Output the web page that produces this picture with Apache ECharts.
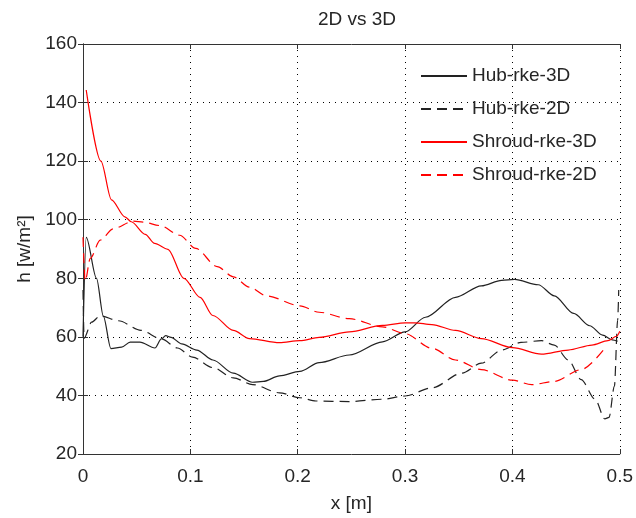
<!DOCTYPE html>
<html>
<head>
<meta charset="utf-8">
<title>2D vs 3D</title>
<script src="https://cdn.jsdelivr.net/npm/echarts@6/dist/echarts.min.js"></script>
<style>
  html, body { margin: 0; padding: 0; background: #ffffff; }
  #chart { width: 636px; height: 518px; }
</style>
</head>
<body>
<div id="chart"></div>
<script>
// Heat transfer coefficient along the blade, hub and shroud, 2D vs 3D runs
const seriesNames = ['Hub-rke-3D', 'Hub-rke-2D', 'Shroud-rke-3D', 'Shroud-rke-2D'];

const xTicks = [0, 0.1, 0.2, 0.3, 0.4, 0.5];
const yTicks = [20, 40, 60, 80, 100, 120, 140, 160];

const hub3dX = [0.000, 0.003, 0.0126, 0.019, 0.026, 0.036, 0.044, 0.053, 0.067, 0.073, 0.077, 0.082, 0.092, 0.106, 0.121, 0.140, 0.158, 0.168, 0.183, 0.202, 0.220, 0.248, 0.279, 0.300, 0.319, 0.347, 0.371, 0.390, 0.402, 0.424, 0.439, 0.457, 0.472, 0.484, 0.493, 0.498];
const hub3dY = [60, 94, 80, 67, 56, 56.5, 58.2, 58.2, 56.2, 59.3, 60.4, 59.8, 57.6, 55.5, 52.1, 47.6, 44.5, 44.8, 46.7, 48.2, 51.2, 53.8, 58.3, 61.7, 66.7, 73.5, 77.4, 79.3, 79.6, 77.8, 74.0, 68.0, 63.8, 60.6, 59.0, 58.5];

const hub2dX = [0.000, 0.001, 0.008, 0.016, 0.033, 0.054, 0.073, 0.088, 0.102, 0.121, 0.140, 0.158, 0.183, 0.202, 0.217, 0.248, 0.279, 0.300, 0.325, 0.353, 0.371, 0.390, 0.408, 0.427, 0.439, 0.452, 0.464, 0.477, 0.486, 0.490, 0.495, 0.498, 0.499];
const hub2dY = [76, 59.5, 65, 67.2, 65.5, 62.2, 59.3, 56.2, 53.1, 49.5, 46.0, 43.7, 40.9, 39.2, 38.1, 37.9, 38.7, 39.8, 42.6, 47.6, 51.0, 55.5, 58.1, 58.7, 57.2, 52.1, 45.4, 38.7, 32.0, 32.5, 43.2, 65.6, 76];

const shroud3dX = [0.003, 0.0167, 0.0265, 0.039, 0.045, 0.058, 0.0667, 0.079, 0.094, 0.109, 0.121, 0.140, 0.155, 0.183, 0.202, 0.220, 0.248, 0.279, 0.300, 0.309, 0.325, 0.347, 0.371, 0.400, 0.427, 0.452, 0.474, 0.489, 0.497, 0.500];
const shroud3dY = [144.3, 120, 106.8, 101, 99.3, 95, 91.9, 89.9, 80, 73.5, 67.3, 62.2, 59.4, 58.0, 58.7, 59.8, 61.7, 63.9, 64.8, 64.8, 64.2, 62.2, 59.4, 56.3, 54.1, 55.5, 57.2, 58.7, 60.2, 61.9];

const shroud2dX = [0.000, 0.002, 0.0068, 0.016, 0.028, 0.047, 0.056, 0.072, 0.090, 0.105, 0.125, 0.140, 0.155, 0.171, 0.202, 0.220, 0.248, 0.279, 0.300, 0.325, 0.347, 0.371, 0.400, 0.418, 0.439, 0.464, 0.486];
const shroud2dY = [94, 79, 86.8, 93.0, 96.9, 99.5, 99.2, 98.0, 94.7, 90.2, 84, 80.5, 77, 74.0, 70.6, 68.4, 66.2, 63.4, 61.1, 56.1, 52.1, 48.8, 45.2, 43.7, 44.8, 48.8, 56.1];

function pairs(xs, ys) {
  return xs.map((x, i) => [x, ys[i]]);
}

const FONT = 'Liberation Sans, Arial, Helvetica, sans-serif';
const TEXT = '#262626';
const BLACK = '#222222';
const RED = '#ff0000';

function lineSeries(name, data, color, dashed) {
  return {
    name: name,
    type: 'line',
    data: data,
    xAxisIndex: 0,
    yAxisIndex: 0,
    symbol: 'none',
    smooth: 0.3,
    smoothMonotone: 'x',
    lineStyle: { color: color, width: 1.2, type: dashed ? [10, 6] : 'solid' },
    itemStyle: { color: color },
    emphasis: { disabled: true },
    z: 3
  };
}

const chart = echarts.init(document.getElementById('chart'), null, { renderer: 'canvas' });

const boxAxisLine = { show: true, lineStyle: { color: '#333333', width: 1 } };
const innerTick = { show: true, inside: true, length: 5, lineStyle: { color: '#333333', width: 1 } };
const dotted = { show: true, lineStyle: { color: '#000000', width: 1, type: [1, 5] } };

chart.setOption({
  animation: false,
  backgroundColor: '#ffffff',
  title: {
    text: '2D vs 3D',
    left: 352,
    textAlign: 'center',
    top: 5,
    textStyle: { fontFamily: FONT, fontSize: 19, fontWeight: 'normal', color: TEXT }
  },
  grid: { left: 83, right: 15, top: 44, bottom: 58, containLabel: false },
  legend: {
    orient: 'vertical',
    left: 415,
    top: 61,
    itemWidth: 46,
    itemHeight: 14,
    itemGap: 13,
    selectedMode: false,
    data: seriesNames,
    itemStyle: { opacity: 0 },
    textStyle: { fontFamily: FONT, fontSize: 19, color: TEXT, lineHeight: 20 }
  },
  xAxis: [
    {
      type: 'value',
      min: xTicks[0],
      max: xTicks[xTicks.length - 1],
      interval: 0.1,
      position: 'bottom',
      name: 'x [m]',
      nameLocation: 'middle',
      nameGap: 40,
      nameTextStyle: { fontFamily: FONT, fontSize: 19, color: TEXT },
      axisLine: boxAxisLine,
      axisTick: innerTick,
      axisLabel: {
        fontFamily: FONT, fontSize: 19, color: TEXT, margin: 13,
        formatter: v => String(Math.round(v * 10) / 10)
      },
      splitLine: dotted
    },
    {
      type: 'value',
      min: xTicks[0],
      max: xTicks[xTicks.length - 1],
      interval: 0.1,
      position: 'top',
      axisLine: boxAxisLine,
      axisTick: innerTick,
      axisLabel: { show: false },
      splitLine: { show: false }
    }
  ],
  yAxis: [
    {
      type: 'value',
      min: yTicks[0],
      max: yTicks[yTicks.length - 1],
      interval: 20,
      position: 'left',
      name: 'h [w/m²]',
      nameLocation: 'middle',
      nameGap: 47,
      nameTextStyle: { fontFamily: FONT, fontSize: 19, color: TEXT },
      axisLine: boxAxisLine,
      axisTick: innerTick,
      axisLabel: { fontFamily: FONT, fontSize: 19, color: TEXT, margin: 6 },
      splitLine: dotted
    },
    {
      type: 'value',
      min: yTicks[0],
      max: yTicks[yTicks.length - 1],
      interval: 20,
      position: 'right',
      axisLine: boxAxisLine,
      axisTick: innerTick,
      axisLabel: { show: false },
      splitLine: { show: false }
    }
  ],
  series: [
    lineSeries(seriesNames[0], pairs(hub3dX, hub3dY), BLACK, false),
    lineSeries(seriesNames[1], pairs(hub2dX, hub2dY), BLACK, true),
    lineSeries(seriesNames[2], pairs(shroud3dX, shroud3dY), RED, false),
    lineSeries(seriesNames[3], pairs(shroud2dX, shroud2dY), RED, true)
  ]
});
</script>
</body>
</html>
